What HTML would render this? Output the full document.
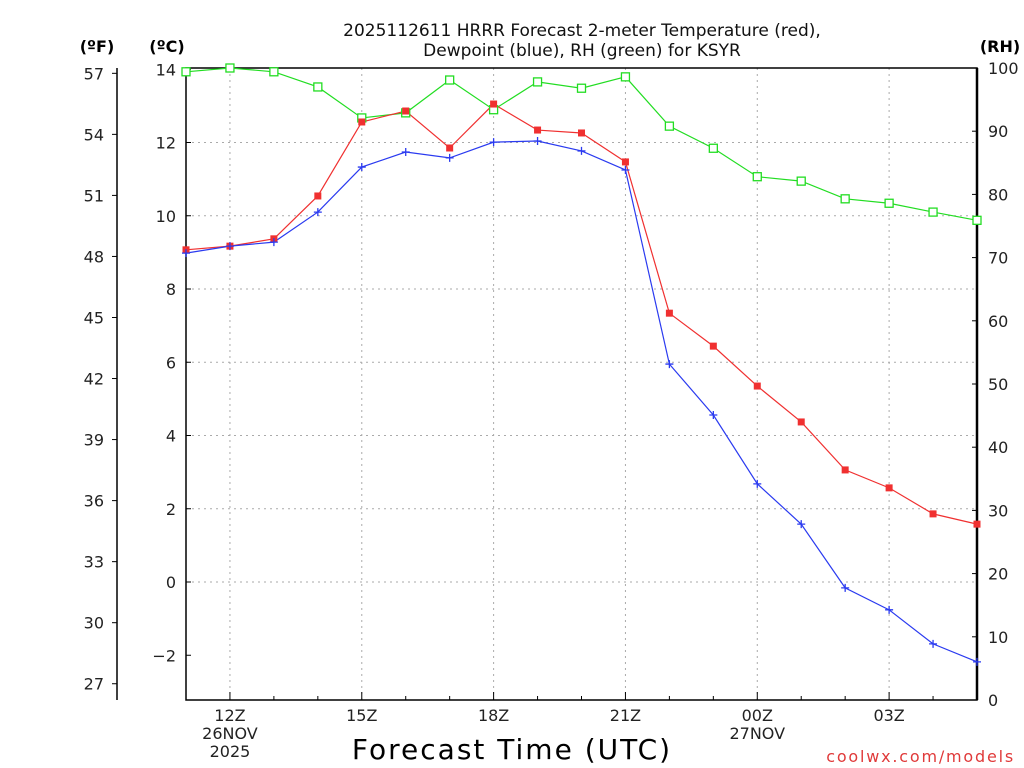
<!DOCTYPE html>
<html><head><meta charset="utf-8"><style>
html,body{margin:0;padding:0;background:#fff;}
svg{display:block;font-family:"DejaVu Sans","Liberation Sans",sans-serif;}
</style></head><body>
<svg id="chart" width="1024" height="768" viewBox="0 0 1024 768" xmlns="http://www.w3.org/2000/svg">
<text x="582" y="36" font-size="17" text-anchor="middle" fill="#111">2025112611 HRRR Forecast 2-meter Temperature (red),</text>
<text x="582" y="56" font-size="17" text-anchor="middle" fill="#111">Dewpoint (blue), RH (green) for KSYR</text>
<text x="97" y="52" font-size="16" font-weight="bold" text-anchor="middle">(ºF)</text>
<text x="167" y="52" font-size="16" font-weight="bold" text-anchor="middle">(ºC)</text>
<text x="1000" y="52" font-size="16" font-weight="bold" text-anchor="middle">(RH)</text>
<text x="512" y="759" font-size="28" letter-spacing="2" text-anchor="middle">Forecast Time (UTC)</text>
<text x="1015" y="762" font-size="16" letter-spacing="1.8" fill="#e03a3a" text-anchor="end">coolwx.com/models</text>
<g id="grid"></g><g id="axes"></g><g id="series"></g>
</svg>
<script>
const hours = [11,12,13,14,15,16,17,18,19,20,21,22,23,24,25,26,27,28,29];
const tempC = [9.07,9.17,9.37,10.54,12.56,12.86,11.85,13.05,12.34,12.26,11.47,7.34,6.44,5.35,4.37,3.06,2.57,1.86,1.58];
const dewC = [8.98,9.17,9.28,10.10,11.33,11.74,11.58,12.01,12.04,11.77,11.25,5.95,4.56,2.68,1.58,-0.16,-0.76,-1.69,-2.18];
const rh = [99.4,100,99.4,97,92.1,92.9,98.1,93.4,97.8,96.8,98.6,90.8,87.3,82.8,82.1,79.3,78.6,77.2,75.9];
const cTicks = [-2,0,2,4,6,8,10,12,14];
const fTicks = [27,30,33,36,39,42,45,48,51,54,57];
const rhTicks = [0,10,20,30,40,50,60,70,80,90,100];
const xTickHours = [12,15,18,21,24,27];
const xTickLabels = [["12Z","26NOV","2025"],["15Z"],["18Z"],["21Z"],["00Z","27NOV"],["03Z"]];

const NS="http://www.w3.org/2000/svg";
const L=186,R=977,T=68,B=700;
const x=h=>L+(h-11)*(R-L)/18;
const yC=c=>582-c*36.625;
const yF=f=>yC((f-32)*5/9);
const yR=r=>B-r*(B-T)/100;
function mk(parent,tag,attrs){const e=document.createElementNS(NS,tag);for(const k in attrs)e.setAttribute(k,attrs[k]);document.getElementById(parent).appendChild(e);return e;}

cTicks.forEach(c=>{if(c<0||c>=14)return;
 const g=mk('grid','line',{x1:L,x2:R,y1:yC(c),y2:yC(c),stroke:'#aaa','stroke-dasharray':'2,4'});
 
 
});
xTickHours.forEach(h=>{
 const g=mk('grid','line',{x1:x(h),x2:x(h),y1:T,y2:B,stroke:'#aaa','stroke-dasharray':'2,4'});
 
 
});
const fr=mk('axes','rect',{x:L,y:T,width:R-L,height:B-T,fill:'none',stroke:'#000','stroke-width':1.5});


const ra=mk('axes','line',{x1:R,x2:R,y1:T,y2:B,stroke:'#000','stroke-width':2.5});


const fa=mk('axes','line',{x1:117,x2:117,y1:68,y2:700,stroke:'#000','stroke-width':1.5});


cTicks.forEach(c=>{
 mk('axes','line',{x1:L,x2:L+5,y1:yC(c),y2:yC(c),stroke:'#000'});
 const t=mk('axes','text',{x:176,y:yC(c)+6,'font-size':16,'text-anchor':'end',fill:'#222'});
 t.textContent=c<0?'\u2212'+(-c):c;
 
 
});
fTicks.forEach(f=>{
 mk('axes','line',{x1:112,x2:117,y1:yF(f),y2:yF(f),stroke:'#000'});
 const t=mk('axes','text',{x:104,y:yF(f)+6,'font-size':16,'text-anchor':'end',fill:'#222'});
 t.textContent=f;
 
 
});
rhTicks.forEach(r=>{
 mk('axes','line',{x1:R-5,x2:R,y1:yR(r),y2:yR(r),stroke:'#000'});
 const t=mk('axes','text',{x:988,y:yR(r)+6,'font-size':16,'text-anchor':'start',fill:'#222'});
 t.textContent=r;
 
 
});
hours.forEach(h=>{mk('axes','line',{x1:x(h),x2:x(h),y1:B,y2:B-(xTickHours.includes(h)?8:4),stroke:'#000'});});
xTickHours.forEach((h,i)=>{
 xTickLabels[i].forEach((s,j)=>{
  const t=mk('axes','text',{x:x(h),y:721+j*18,'font-size':16,'text-anchor':'middle',fill:'#222'});
  t.textContent=s;
  
  
 });
});
function line(vals,fy,color,name){
 const p=mk('series','polyline',{points:vals.map((v,i)=>x(hours[i])+','+fy(v)).join(' '),fill:'none',stroke:color,'stroke-width':1.2});
 
 
}
line(rh,yR,'#22dd22','rh-line');
line(tempC,yC,'#f03030','temperature-line');
line(dewC,yC,'#2a3af0','dewpoint-line');
rh.forEach((v,i)=>{
 const m=mk('series','rect',{x:x(hours[i])-4,y:yR(v)-4,width:8,height:8,fill:'#fff',stroke:'#22dd22','stroke-width':1.3});
 
 
});
tempC.forEach((v,i)=>{
 const m=mk('series','rect',{x:x(hours[i])-3.5,y:yC(v)-3.5,width:7,height:7,fill:'#f03030'});
 
 
});
dewC.forEach((v,i)=>{
 const cx=x(hours[i]),cy=yC(v);
 const m=mk('series','path',{d:`M${cx-4},${cy}H${cx+4}M${cx},${cy-4}V${cy+4}`,stroke:'#2a3af0','stroke-width':1.3});
 
 
});
</script>
</body></html>
